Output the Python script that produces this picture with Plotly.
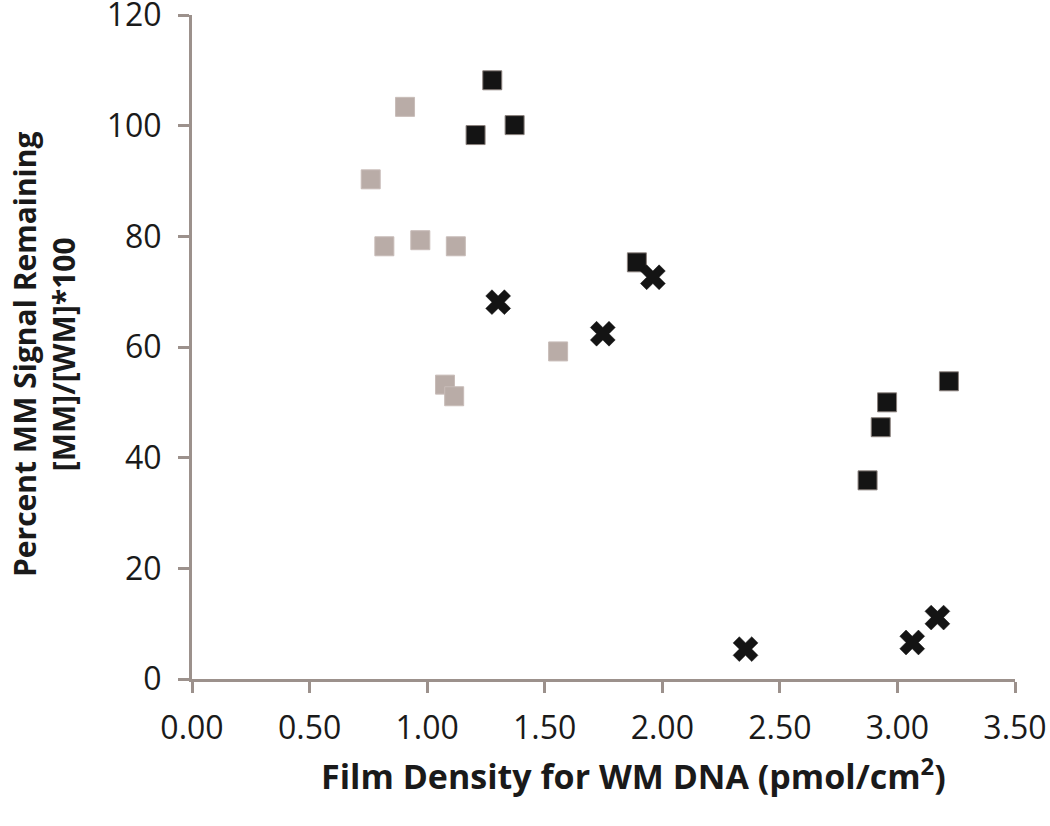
import plotly.graph_objects as go

# Gray squares series
gray_x = [0.760, 0.906, 0.818, 0.971, 1.122, 1.557, 1.076, 1.115]
gray_y = [90.3, 103.4, 78.2, 79.3, 78.2, 59.2, 53.2, 51.1]

# Black squares series
black_x = [1.277, 1.206, 1.372, 1.892, 3.219, 2.956, 2.929, 2.873]
black_y = [108.2, 98.3, 100.1, 75.3, 53.8, 50.0, 45.5, 35.9]

# X markers series
cross_x = [1.302, 1.747, 1.960, 2.354, 3.063, 3.170]
cross_y = [68.1, 62.4, 72.6, 5.4, 6.6, 11.1]

x_ticks = [0, 0.5, 1.0, 1.5, 2.0, 2.5, 3.0, 3.5]
y_ticks = [0, 20, 40, 60, 80, 100, 120]

axis_color = "#9c918c"
font_family = "Open Sans, Liberation Sans, sans-serif"
text_color = "#1a1a1a"

W, H = 1050, 826
L, T = 192, 15
R = W - 1015
B = H - 679
pw = W - L - R
ph = H - T - B

fig = go.Figure()
fig.add_trace(go.Scatter(x=gray_x, y=gray_y, mode="markers",
                         marker=dict(symbol="square", size=19, color="#b9aca7",
                                     line=dict(color="#c8bcb8", width=1))))
fig.add_trace(go.Scatter(x=black_x, y=black_y, mode="markers",
                         marker=dict(symbol="square", size=19, color="#141414",
                                     line=dict(color="#8a807c", width=1))))
fig.add_trace(go.Scatter(x=cross_x, y=cross_y, mode="markers",
                         marker=dict(symbol="x", size=22, color="#141414",
                                     line=dict(color="#141414", width=0.5))))

axis_common = dict(showgrid=False, zeroline=False, showline=True,
                   linecolor=axis_color, linewidth=3,
                   ticks="outside", ticklen=11, tickwidth=3, tickcolor=axis_color,
                   automargin=False, ticklabeloverflow="allow",
                   tickfont=dict(size=32, family=font_family, color=text_color))

fig.update_layout(
    width=W, height=H,
    margin=dict(l=L, r=R, t=T, b=B),
    plot_bgcolor="white", paper_bgcolor="white",
    showlegend=False,
    font=dict(family=font_family, color=text_color),
    xaxis=dict(range=[0, 3.5], tickvals=x_ticks,
               ticktext=[f"{v:.2f}" for v in x_ticks],
               ticklabelstandoff=8, **axis_common),
    yaxis=dict(range=[0, 120], tickvals=y_ticks,
               ticklabelstandoff=10, **axis_common),
    annotations=[
        dict(text="<b>Film Density for WM DNA (pmol/cm<sup>2</sup>)</b>",
             x=(633 - L) / pw, y=(H - B - 774) / ph,
             xref="paper", yref="paper", xanchor="center", yanchor="middle",
             showarrow=False,
             font=dict(size=34, family=font_family, color=text_color)),
        dict(text="<b>Percent MM Signal Remaining<br>[MM]/[WM]*100</b>",
             x=(44 - L) / pw, y=(H - B - 355) / ph,
             xref="paper", yref="paper", xanchor="center", yanchor="middle",
             showarrow=False, textangle=-90,
             font=dict(size=30, family=font_family, color=text_color)),
    ],
)

fig.write_html("out.html", config={"displayModeBar": False},
               post_script="document.body.style.margin='0';document.body.style.overflow='hidden';")
